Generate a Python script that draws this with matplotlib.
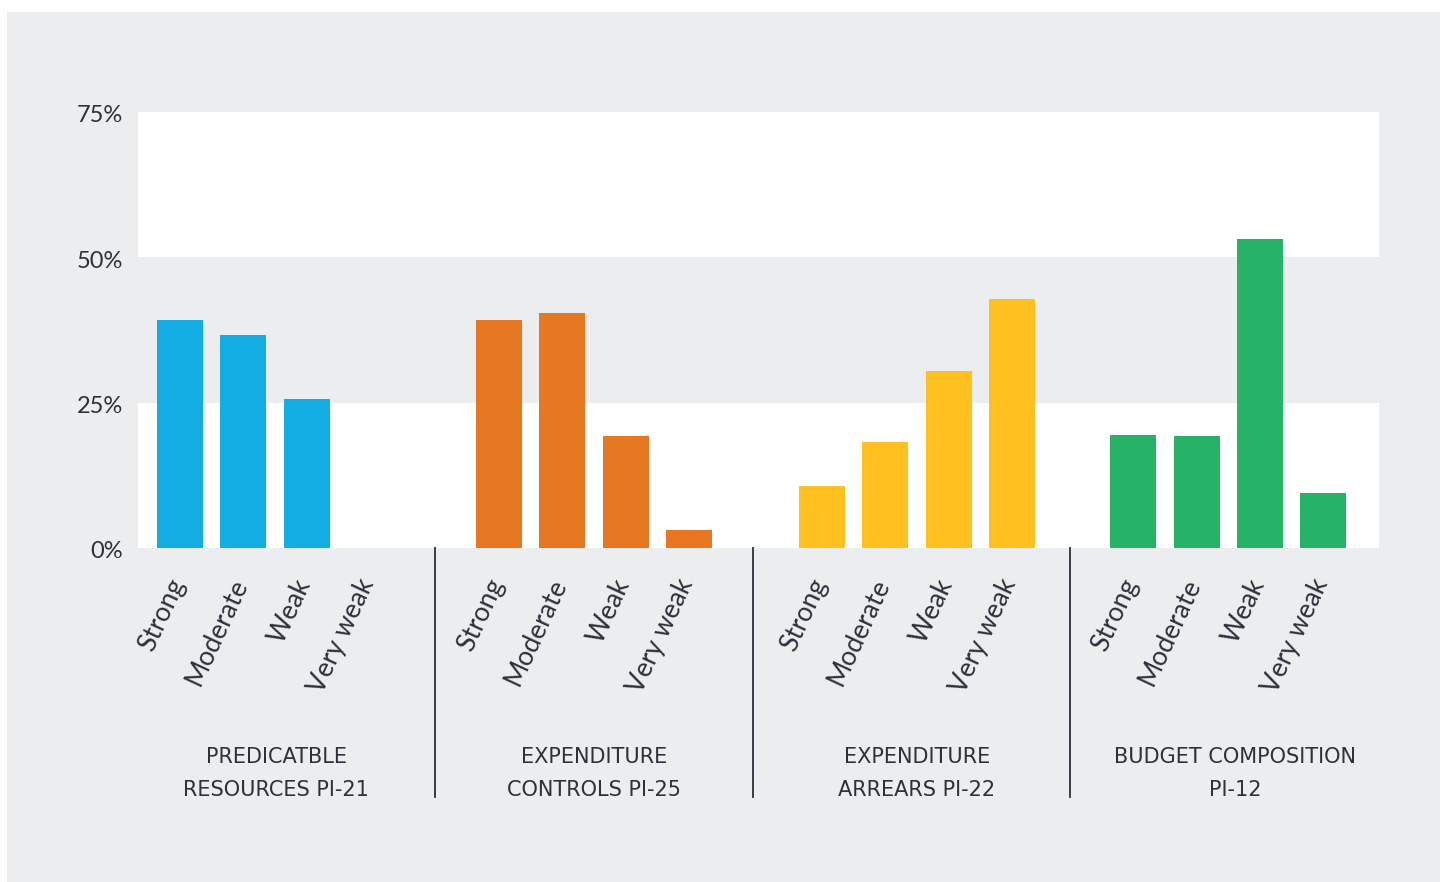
import matplotlib
matplotlib.use("Agg")
import matplotlib.pyplot as plt
import matplotlib.transforms as mtransforms
from matplotlib.patches import Rectangle

# Ratings per indicator group (share of assessments, %)
ratings = ["Strong", "Moderate", "Weak", "Very weak"]
group_names = [
    "PREDICATBLE\nRESOURCES PI-21",
    "EXPENDITURE\nCONTROLS PI-25",
    "EXPENDITURE\nARREARS PI-22",
    "BUDGET COMPOSITION\nPI-12",
]
predictable_resources = [39.3, 36.7, 25.6, 0.0]
expenditure_controls = [39.3, 40.5, 19.2, 3.1]
expenditure_arrears = [10.6, 18.2, 30.5, 42.9]
budget_composition = [19.4, 19.2, 53.2, 9.4]
group_values = [predictable_resources, expenditure_controls,
                expenditure_arrears, budget_composition]
group_colors = ["#14ADE3", "#E87722", "#FFC020", "#26B368"]
y_ticks = [0, 25, 50, 75]

# layout in bar slots: group starts, divider lines, caption centres
group_starts = [0.0, 5.04, 10.14, 15.06]
dividers = [4.03, 9.05, 14.06]
caption_centres = [1.52, 6.54, 11.64, 16.67]

BG = "#ECEDEF"
TEXT = "#2E303B"
W, H = 1440, 882

fig = plt.figure(figsize=(W / 100, H / 100), dpi=100, facecolor="white")
fig.patches.append(Rectangle((7 / W, 0), 1 - 7 / W, 1 - 12 / H,
                             transform=fig.transFigure, facecolor=BG,
                             edgecolor="none", zorder=-10))

ax = fig.add_axes([138 / W, (H - 548) / H, (1379 - 138) / W, (548 - 112) / H])
ax.set_facecolor(BG)
ax.axhspan(0, 25, color="white", zorder=0, lw=0)
ax.axhspan(50, 75, color="white", zorder=0, lw=0)

positions, labels = [], []
for start, vals, col in zip(group_starts, group_values, group_colors):
    xs = [start + i for i in range(len(ratings))]
    ax.bar(xs, vals, width=0.727, color=col, zorder=2, lw=0)
    positions += xs
    labels += ratings

ax.set_xlim(-0.663, 18.94)
ax.set_ylim(0, 75)
for s in ax.spines.values():
    s.set_visible(False)

ax.set_yticks(y_ticks)
ax.set_yticklabels([f"{v}%" for v in y_ticks], fontsize=17, color=TEXT,
                   family="Lato")
ax.tick_params(axis="y", length=0, pad=10.8)
ydown = mtransforms.ScaledTranslation(0, -2 / 100, fig.dpi_scale_trans)
for lbl in ax.get_yticklabels():
    lbl.set_transform(lbl.get_transform() + ydown)

ax.set_xticks(positions)
ax.set_xticklabels(labels, rotation=65, ha="right", va="center",
                   rotation_mode="anchor", fontsize=19, color=TEXT,
                   family="Lato")
ax.tick_params(axis="x", length=0, pad=23)
offset = mtransforms.ScaledTranslation(-2 / 100, 0, fig.dpi_scale_trans)
for lbl in ax.get_xticklabels():
    lbl.set_transform(lbl.get_transform() + offset)

trans = mtransforms.blended_transform_factory(ax.transData, ax.transAxes)
for sep in dividers:
    ax.plot([sep, sep], [0, (548 - 797) / 436], transform=trans,
            color="#2B2D3A", lw=1.3, clip_on=False, zorder=3)

for cx, name in zip(caption_centres, group_names):
    for k, line in enumerate(name.split("\n")):
        y = (548 - (757 + 33 * k)) / 436
        ax.text(cx, y, line, transform=trans, ha="center", va="center",
                fontsize=15, color=TEXT, family="DejaVu Sans")

fig.savefig("out.png", dpi=100, facecolor="white")
